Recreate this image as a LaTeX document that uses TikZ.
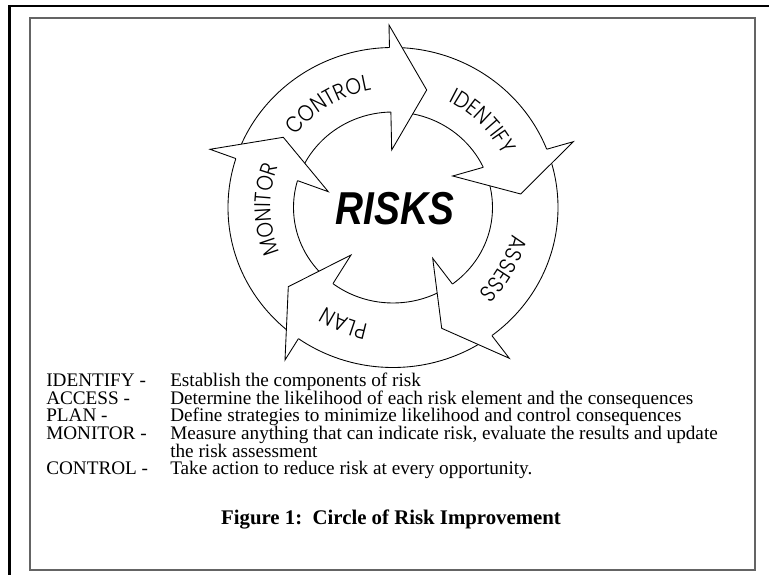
\documentclass[tikz,border=0pt]{standalone}
\usepackage{graphicx}
\usepackage{fontspec}
\setmainfont{Liberation Serif}
\IfFontExistsTF{Poppins Light}{\newfontfamily\geofont{Poppins Light}[FakeStretch=0.88]}{\newfontfamily\geofont{Poppins}[FakeStretch=0.88]}
\newfontfamily\riskfont{Liberation Sans}
\usetikzlibrary{decorations.text,intersections}
\definecolor{framegray}{RGB}{100,100,100}
\tikzset{
  ringline/.style={line width=0.65pt, line join=miter},
  desc/.style={anchor=base west, inner sep=0pt, font=\fontsize{14.4}{17}\selectfont},
}
\newcommand\riskhead[4]{%
  \coordinate (#1-ob) at (#2);
  \coordinate (#1-tip) at (#3);
  \coordinate (#1-ib) at (#4);
  \path[name path=#1-base] (#1-ob) -- (#1-ib);
  \path[name intersections={of=#1-base and outerE, by={#1-on}}];
  \path[name intersections={of=#1-base and innerE, by={#1-in}}];
  \fill[white] (#1-ob) -- (#1-tip) -- (#1-ib) -- cycle;
  \draw[ringline] (#1-on) -- (#1-ob) -- (#1-tip) -- (#1-ib) -- (#1-in);
}
\newcommand\ringlabel[2]{%
  \path[decorate, decoration={text along path, text align=center,
     text={|\geofont\fontsize{17}{17}\selectfont|#2}}]
     ([shift={({#1+60}:122 and 119)}]C) arc[start angle={#1+60}, end angle={#1-60}, x radius=122, y radius=119];
}
\begin{document}
\begin{tikzpicture}[x=0.75pt,y=0.75pt]
\useasboundingbox (0,0) rectangle (769,575);
\fill[white] (0,0) rectangle (769,575);
% frames
\draw[line width=1.8pt] (9.3,-5) -- (9.3,568.8) -- (775,568.8);
\draw[framegray, line width=1.4pt] (29.8,5) rectangle (755.3,556.7);
% ring
\coordinate (C) at (393,367.5);
\draw[ringline, name path=outerE] (C) ellipse [x radius=165, y radius=160];
\draw[ringline, name path=innerE] (C) ellipse [x radius=99.5, y radius=95.5];
% arrow heads
\riskhead{control}{389,550}{426.7,485}{391.7,425}
\riskhead{identify}{573.3,433.3}{520.7,381}{452.7,399}
\riskhead{assess}{509.3,216.7}{441.7,246.7}{432.7,316.7}
\riskhead{plan}{285,215}{288.3,288.3}{351,320}
\riskhead{monitor}{210,425.7}{283.3,437.7}{328.3,383.3}
% ring labels
\ringlabel{122}{CONTROL}
\ringlabel{44}{IDENTIFY}
\ringlabel{-29}{ASSESS}
\ringlabel{-113}{PLAN}
\ringlabel{181}{MONITOR}
% centre
\node[anchor=base, inner sep=0pt] (risks) at (395,350)
  {\scalebox{0.84}[1]{\riskfont\bfseries\itshape\fontsize{34.6}{36}\selectfont RISKS}};
% legend
\node[desc] (lab1) at (46,188.3) {IDENTIFY -};
\node[desc] (txt1) at (170,188.3) {Establish the components of risk};
\node[desc] (lab2) at (46,170.7) {ACCESS -};
\node[desc] (txt2) at (170,170.7) {Determine the likelihood of each risk element and the consequences};
\node[desc] (lab3) at (46,153.1) {PLAN -};
\node[desc] (txt3) at (170,153.1) {Define strategies to minimize likelihood and control consequences};
\node[desc] (lab4) at (46,135.5) {MONITOR -};
\node[desc] (txt4) at (170,135.5) {Measure anything that can indicate risk, evaluate the results and update};
\node[desc] (txt4b) at (170,117.9) {the risk assessment};
\node[desc] (lab5) at (46,100.3) {CONTROL -};
\node[desc] (txt5) at (170,100.3) {Take action to reduce risk at every opportunity.};
\node[anchor=base, inner sep=0pt, font=\fontsize{15.6}{18}\selectfont\bfseries] (cap) at (391,50)
  {Figure 1:\ \ Circle of Risk Improvement};
\end{tikzpicture}
\end{document}
